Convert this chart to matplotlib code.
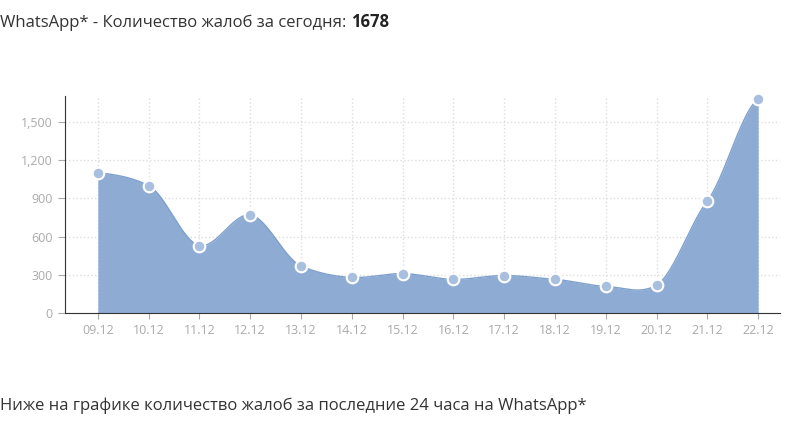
import numpy as np
import matplotlib.pyplot as plt

plt.rcParams['font.family'] = ['Open Sans', 'DejaVu Sans']

dates = ['09.12', '10.12', '11.12', '12.12', '13.12', '14.12', '15.12',
         '16.12', '17.12', '18.12', '19.12', '20.12', '21.12', '22.12']
complaints = [1100, 1000, 530, 770, 370, 280, 310, 265, 295, 265, 210, 220, 880, 1678]
yticks = [0, 300, 600, 900, 1200, 1500]
ytick_labels = ['0', '300', '600', '900', '1,200', '1,500']


def smooth(x, y, n=30, k=0.35):
    # cardinal spline through the points (hermite form)
    x = np.asarray(x, float)
    y = np.asarray(y, float)
    t = np.linspace(0, 1, n)
    h00 = 2 * t ** 3 - 3 * t ** 2 + 1
    h10 = t ** 3 - 2 * t ** 2 + t
    h01 = -2 * t ** 3 + 3 * t ** 2
    h11 = t ** 3 - t ** 2
    m = np.zeros_like(y)
    m[1:-1] = k * (y[2:] - y[:-2])
    m[0] = k * (y[1] - y[0])
    m[-1] = k * (y[-1] - y[-2])
    xs, ys = [], []
    for i in range(len(x) - 1):
        xs.extend(x[i] + t * (x[i + 1] - x[i]))
        ys.extend(h00 * y[i] + h10 * m[i] + h01 * y[i + 1] + h11 * m[i + 1])
    return np.array(xs), np.array(ys)


fig = plt.figure(figsize=(8, 4.48), dpi=100)
ax = fig.add_axes([0.081, 0.301, 0.894, 0.484])

x = np.arange(len(dates))
sx, sy = smooth(x, complaints)
ax.fill_between(sx, 0, sy, color='#8eabd4', lw=0)
ax.plot(sx, sy, color='#7f9fcc', lw=1)
ax.scatter(x, complaints, s=70, color='#a9bfdf', edgecolor='white', lw=1.5,
           zorder=3, clip_on=False)

ax.set_xlim(-0.65, 13.43)
ax.set_ylim(0, 1700)
ax.set_xticks(x)
ax.set_xticklabels(dates)
ax.set_yticks(yticks)
ax.set_yticklabels(ytick_labels)
ax.tick_params(colors='#aaaaaa', labelsize=9, length=4)
ax.tick_params(axis='y', length=5)
ax.grid(True, color='#dddddd', ls=':', lw=1)
ax.set_axisbelow(True)
for s in ['top', 'right']:
    ax.spines[s].set_visible(False)
ax.spines['left'].set_color('#333333')
ax.spines['bottom'].set_color('#333333')

t1 = fig.text(0.0, 0.95, 'WhatsApp* - Количество жалоб за сегодня: ', fontsize=12,
              color='#333333', va='center')
fig.canvas.draw()
bb = t1.get_window_extent()
fig.text(bb.x1 / fig.bbox.width, 0.95, '1678', fontsize=12, color='#222222',
         weight='bold', va='center')
fig.text(0.0, 0.095, 'Ниже на графике количество жалоб за последние 24 часа на WhatsApp*',
         fontsize=12, color='#333333', va='center')

fig.savefig('out.png')
